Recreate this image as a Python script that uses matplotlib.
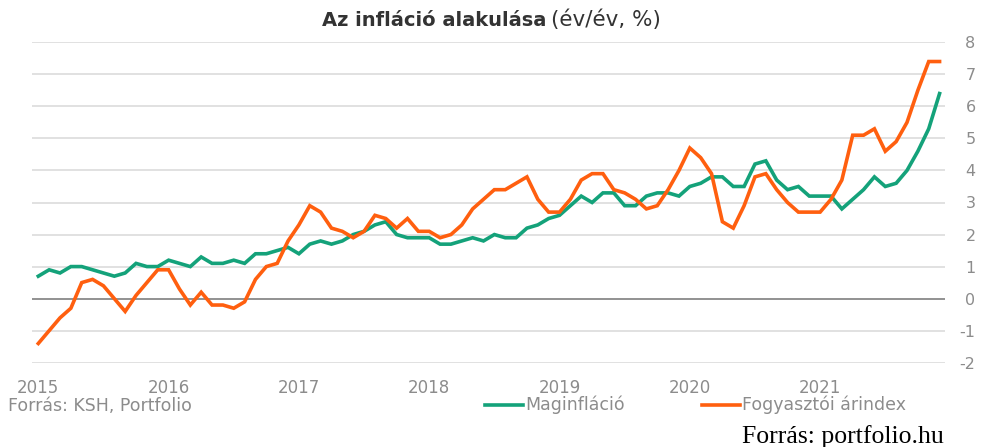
import matplotlib
matplotlib.use("Agg")
import matplotlib.pyplot as plt
from matplotlib.lines import Line2D

# havi adatok 2015 jan - 2021 dec
years = ["2015", "2016", "2017", "2018", "2019", "2020", "2021"]

maginflacio = [
    0.7, 0.9, 0.8, 1.0, 1.0, 0.9, 0.8, 0.7, 0.8, 1.1, 1.0, 1.0,
    1.2, 1.1, 1.0, 1.3, 1.1, 1.1, 1.2, 1.1, 1.4, 1.4, 1.5, 1.6,
    1.4, 1.7, 1.8, 1.7, 1.8, 2.0, 2.1, 2.3, 2.4, 2.0, 1.9, 1.9,
    1.9, 1.7, 1.7, 1.8, 1.9, 1.8, 2.0, 1.9, 1.9, 2.2, 2.3, 2.5,
    2.6, 2.9, 3.2, 3.0, 3.3, 3.3, 2.9, 2.9, 3.2, 3.3, 3.3, 3.2,
    3.5, 3.6, 3.8, 3.8, 3.5, 3.5, 4.2, 4.3, 3.7, 3.4, 3.5, 3.2,
    3.2, 3.2, 2.8, 3.1, 3.4, 3.8, 3.5, 3.6, 4.0, 4.6, 5.3, 6.4,
]

fogyasztoi = [
    -1.4, -1.0, -0.6, -0.3, 0.5, 0.6, 0.4, 0.0, -0.4, 0.1, 0.5, 0.9,
    0.9, 0.3, -0.2, 0.2, -0.2, -0.2, -0.3, -0.1, 0.6, 1.0, 1.1, 1.8,
    2.3, 2.9, 2.7, 2.2, 2.1, 1.9, 2.1, 2.6, 2.5, 2.2, 2.5, 2.1,
    2.1, 1.9, 2.0, 2.3, 2.8, 3.1, 3.4, 3.4, 3.6, 3.8, 3.1, 2.7,
    2.7, 3.1, 3.7, 3.9, 3.9, 3.4, 3.3, 3.1, 2.8, 2.9, 3.4, 4.0,
    4.7, 4.4, 3.9, 2.4, 2.2, 2.9, 3.8, 3.9, 3.4, 3.0, 2.7, 2.7,
    2.7, 3.1, 3.7, 5.1, 5.1, 5.3, 4.6, 4.9, 5.5, 6.5, 7.4, 7.4,
]

green = "#14a27a"
orange = "#ff5f0f"
gray = "#8c8c8c"

plt.rcParams['font.family'] = ['DejaVu Sans']
plt.rcParams['axes.unicode_minus'] = False

fig = plt.figure(figsize=(9.83, 4.47), dpi=100)
ax = fig.add_axes([32 / 983, 1 - 362.7 / 447, 913 / 983, 320.4 / 447])

months = list(range(len(fogyasztoi)))

# rácsvonalak
for v in range(-2, 9):
    ax.axhline(v, color="#7f7f7f" if v == 0 else "#dcdcdc", lw=1.2, zorder=1)

ax.plot(months, maginflacio, color=green, lw=2.6, zorder=3, solid_joinstyle="miter")
ax.plot(months, fogyasztoi, color=orange, lw=2.6, zorder=4, solid_joinstyle="miter")

ax.set_xlim(-0.58, 83.5)
ax.set_ylim(-2, 8)
for s in ax.spines.values():
    s.set_visible(False)

ax.yaxis.tick_right()
ax.set_yticks(range(-2, 9))
ax.tick_params(axis="y", length=0, pad=22, labelsize=11.5, labelcolor=gray)
for lab in ax.get_yticklabels():
    lab.set_horizontalalignment("right")
ax.set_xticks(range(0, 84, 12))
ax.set_xticklabels(years)
ax.tick_params(axis="x", length=0, pad=12, labelsize=12, labelcolor=gray)

# cím
fig.text(546 / 983, 1 - 20 / 447, "Az infláció alakulása", ha="right", va="center",
         fontsize=14, fontweight="bold", color="#333333")
fig.text(551 / 983, 1 - 20 / 447, "(év/év, %)", ha="left", va="center",
         fontsize=15.5, color="#333333")

fig.text(8 / 983, 1 - 406 / 447, "Forrás: KSH, Portfolio", ha="left", va="center",
         fontsize=12.5, color=gray)

# jelmagyarázat
fig.add_artist(Line2D([485 / 983, 523 / 983], [1 - 405 / 447] * 2, color=green, lw=2.6))
fig.text(525 / 983, 1 - 405 / 447, "Maginfláció", ha="left", va="center",
         fontsize=12.5, color=gray)
fig.add_artist(Line2D([702 / 983, 740 / 983], [1 - 405 / 447] * 2, color=orange, lw=2.6))
fig.text(742 / 983, 1 - 405 / 447, "Fogyasztói árindex", ha="left", va="center",
         fontsize=12.5, color=gray)

fig.text(742 / 983, 1 - 443 / 447, "Forrás: portfolio.hu", ha="left", va="baseline",
         fontsize=18.5, color="black", family=["Liberation Serif", "DejaVu Serif"])

fig.savefig("out.png", dpi=100)
